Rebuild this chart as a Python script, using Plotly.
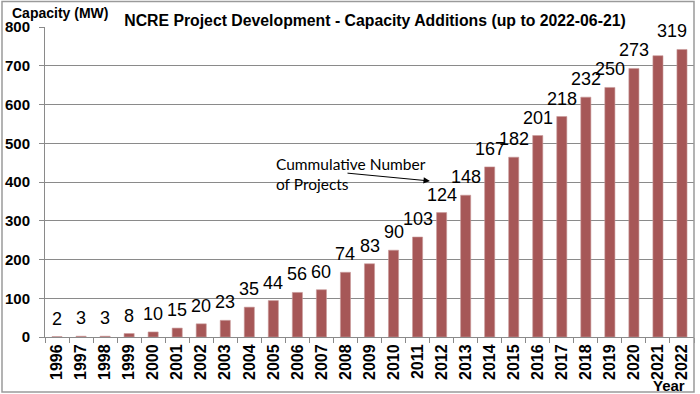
import plotly.graph_objects as go

years = [str(y) for y in range(1996, 2023)]
capacity_mw = [1, 2, 2, 9, 13, 23, 34, 43, 77, 94, 115, 122, 167, 189, 224, 258,
               321, 366, 439, 464, 520, 569, 619, 644, 693, 726, 742]
project_counts = ["2", "3", "3", "8", "10", "15", "20", "23", "35", "44", "56", "60",
                  "74", "83", "90", "103", "124", "148", "167", "182", "201", "218",
                  "232", "250", "273", "", "319"]
y_ticks = [0, 100, 200, 300, 400, 500, 600, 700, 800]

W, H = 700, 394
L, R, T, B = 45, 6, 27, 57
pw, ph = W - L - R, H - T - B

def px(x):
    return (x - L) / pw

def py(y):
    return (H - B - y) / ph

fig = go.Figure()
fig.add_trace(go.Bar(
    x=years, y=capacity_mw,
    marker=dict(color="#A65757", line=dict(color="#C99A9A", width=0.6)),
    hoverinfo="x+y",
))

annotations = []
for i, (v, lab) in enumerate(zip(capacity_mw, project_counts)):
    if not lab:
        continue
    annotations.append(dict(
        x=i, y=v, xref="x", yref="y", text=lab, showarrow=False,
        yanchor="bottom", xanchor="center", yshift=6,
        xshift=-10 if i == len(years) - 1 else 0,
        font=dict(family="Liberation Sans, Arial", size=18, color="#000000"),
    ))

annotations += [
    dict(xref="paper", yref="paper", x=px(10), y=py(13), xanchor="left", yanchor="middle",
         text="<b>Capacity (MW)</b>", showarrow=False,
         font=dict(family="Liberation Sans, Arial", size=14, color="#000")),
    dict(xref="paper", yref="paper", x=px(669), y=py(386), xanchor="center", yanchor="middle",
         text="<b>Year</b>", showarrow=False,
         font=dict(family="Liberation Sans, Arial", size=15, color="#000")),
    dict(xref="paper", yref="paper", x=px(274), y=py(174), xanchor="left", yanchor="middle",
         align="left", text="Cummulative Number<br>of Projects", showarrow=False,
         font=dict(family="Lato", size=15.5, color="#000")),
    dict(xref="paper", yref="paper", x=px(430), y=py(181), ax=-84, ay=-8,
         text="", showarrow=True, arrowhead=2, arrowsize=1.3, arrowwidth=1,
         arrowcolor="#000"),
]

fig.update_layout(
    width=W, height=H,
    margin=dict(l=L, r=R, t=T, b=B, autoexpand=False),
    paper_bgcolor="white", plot_bgcolor="white",
    bargap=0.58,
    showlegend=False,
    title=dict(text="<b>NCRE Project Development - Capacity Additions (up to 2022-06-21)</b>",
               x=375 / W, xanchor="center", y=1 - 20 / H, yanchor="middle",
               font=dict(family="Liberation Sans, Arial", size=15.8, color="#000")),
    annotations=annotations,
    shapes=[dict(type="rect", xref="paper", yref="paper",
                 x0=px(2), x1=px(694), y0=py(392), y1=py(1.5),
                 line=dict(color="#9A9A9A", width=1.5), layer="above")],
)

fig.update_xaxes(
    type="category", range=[-0.5, len(years) - 0.5],
    tickangle=-90, ticks="outside", ticklen=5, tickcolor="#8A8A8A",
    tickson="boundaries", showline=True, linecolor="#8A8A8A", linewidth=1,
    tickfont=dict(family="Liberation Sans, Arial", size=16, color="#000", weight="bold"),
    showgrid=False, automargin=False,
)
fig.update_yaxes(
    range=[0, 800], tickvals=y_ticks, ticks="outside", ticklen=5, tickcolor="#8A8A8A",
    showline=True, linecolor="#8A8A8A", linewidth=1,
    showgrid=True, gridcolor="#8A8A8A", gridwidth=1, zeroline=False,
    tickfont=dict(family="Liberation Sans, Arial", size=15, color="#000", weight="bold"),
    ticklabelstandoff=6, automargin=False,
)

fig.write_html("out.html", config={"displayModeBar": False},
               post_script="document.body.style.margin='0';document.body.style.overflow='hidden';")
